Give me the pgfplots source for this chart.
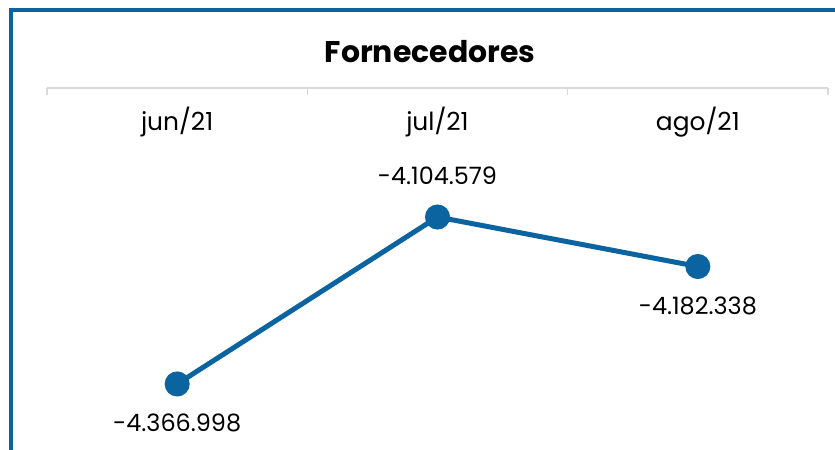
\documentclass[border=0pt]{standalone}
\usepackage{fontspec}
\setmainfont{Poppins}
\usepackage{pgfplots}
\usepackage{pgfplotstable}
\pgfplotsset{compat=1.18}
\definecolor{fblue}{HTML}{0B64A0}
\definecolor{axgray}{HTML}{D9D9D9}
\pgfplotstableread{
x y label dy
0 -4366998 -4.366.998 -39
1 -4104579 -4.104.579 41
2 -4182338 -4.182.338 -39
}\fornecedores

\begin{document}
\begin{tikzpicture}[x=1bp,y=1bp]
\useasboundingbox (0,0) rectangle (835,450);
\draw[fblue, line width=4bp] (11,-20) -- (11,440) -- (870,440);
\node[font=\fontsize{30}{36}\selectfont\bfseries] at (430,398) {Fornecedores};
\begin{axis}[at={(47bp,0bp)}, anchor=south west, scale only axis,
  width=781bp, height=362bp,
  xmin=-0.5, xmax=2.5, ymin=-4470768, ymax=-3901779,
  axis x line*=top, axis y line=none,
  x axis line style={axgray, line width=1.5bp, -},
  xtick={0,1,2}, xticklabels={jun/21,jul/21,ago/21},
  major tick length=0bp,
  minor xtick={-0.5,0.5,1.5,2.5}, minor tick length=7bp,
  tick align=inside,
  minor tick style={axgray, line width=1.5bp},
  xticklabel style={font=\fontsize{25}{30}\selectfont, anchor=base, yshift=-43bp},
  clip=false]
  \addplot[fblue, line width=5bp, mark=*, mark size=10bp,
    nodes near coords, point meta=explicit symbolic,
    visualization depends on={\thisrow{dy} \as \labdy},
    every node near coord/.append style={anchor=center, black,
      yshift=\labdy bp, font=\fontsize{24}{28}\selectfont}]
    table[x=x, y=y, meta=label] {\fornecedores};
\end{axis}
\end{tikzpicture}
\end{document}
